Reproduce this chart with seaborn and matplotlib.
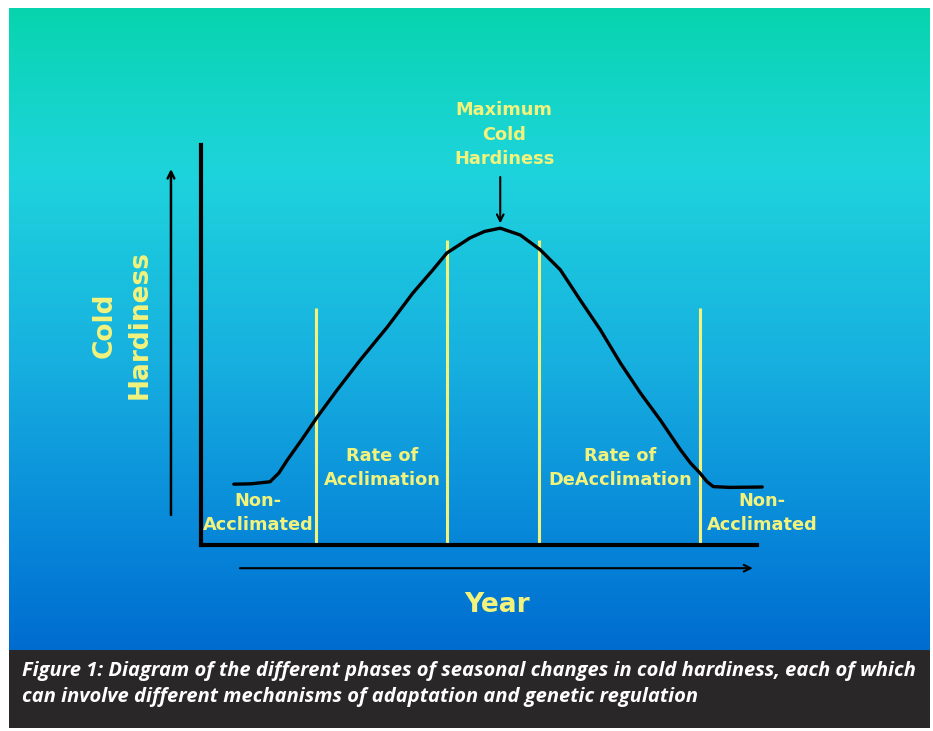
import numpy as np
import pandas as pd
import matplotlib
matplotlib.use("Agg")
import matplotlib.pyplot as plt
from matplotlib.colors import LinearSegmentedColormap
from matplotlib.patches import Rectangle
import seaborn as sns

# Data (x: position through the year, 0-100; y: relative cold hardiness, 0-100)
year_pos = [5.9, 9.0, 12.4, 14.0, 15.5, 18.2, 20.9, 24.5, 28.6, 33.5, 38.1, 41.7, 44.2,
            48.4, 51.0, 53.8, 57.4, 61.0, 64.6, 68.2, 71.8, 75.4, 79.0, 82.6, 86.2,
            88.0, 89.7, 91.0, 92.1, 95.0, 100.9]
hardiness = [15.2, 15.3, 15.8, 18.0, 21.2, 26.5, 32.0, 38.8, 46.2, 54.5, 63.0, 68.8, 73.0,
             76.8, 78.4, 79.2, 77.5, 73.8, 68.8, 61.2, 53.8, 45.5, 38.0, 31.2, 23.8,
             20.5, 18.0, 15.8, 14.6, 14.4, 14.5]

phase_bounds = [20.7, 44.2, 60.8, 89.7]
phase_tops = [59.2, 76.2, 76.2, 59.2]

phase_labels = ["Non-\nAcclimated", "Rate of\nAcclimation", "Rate of\nDeAcclimation", "Non-\nAcclimated"]
phase_label_x = [10.3, 32.6, 75.4, 100.9]
phase_label_y = [8.0, 19.3, 19.3, 8.0]

peak_x, peak_y = 53.8, 79.2

caption = ("Figure 1: Diagram of the different phases of seasonal changes in cold hardiness, each of which\n"
           "can involve different mechanisms of adaptation and genetic regulation")

df = pd.DataFrame({"year": year_pos, "hardiness": hardiness})

sns.set_theme(style="white")
plt.rcParams["font.family"] = ["DejaVu Sans"]

YELLOW = "#f3f37c"
W, H = 933, 731
fig = plt.figure(figsize=(W / 100, H / 100), dpi=100)
fig.patch.set_facecolor("white")

# background panel with vertical gradient + caption box
bg = fig.add_axes([0, 0, 1, 1])
bg.set_xlim(0, W)
bg.set_ylim(H, 0)
bg.axis("off")
grad_cmap = LinearSegmentedColormap.from_list(
    "panel", [(0.0, "#07d4ae"), (0.16, "#16d5cc"), (0.26, "#1ed3dc"),
              (0.55, "#17b0e0"), (0.85, "#0683d8"), (1.0, "#006ccf")])
grad = np.linspace(0, 1, 256).reshape(-1, 1)
bg.imshow(grad, cmap=grad_cmap, aspect="auto", extent=[9, 930, 650, 8], zorder=0)
bg.add_patch(Rectangle((9, 650), 921, 78, facecolor="#2a2728", edgecolor="none", zorder=1))
bg.text(22, 684, caption, color="white", fontsize=14.5, family=["Open Sans", "DejaVu Sans"],
        style="italic", weight="bold", va="center", ha="left", linespacing=1.4)

# chart axes
ax = fig.add_axes([201 / W, (H - 545) / H, 569 / W, 400 / H])
ax.patch.set_alpha(0)
ax.set_xlim(0, 102.3)
ax.set_ylim(0, 100)
ax.set_xticks([])
ax.set_yticks([])
for s in ["top", "right"]:
    ax.spines[s].set_visible(False)
ax.spines["left"].set_linewidth(3)
ax.spines["bottom"].set_linewidth(3)
ax.spines["left"].set_color("black")
ax.spines["bottom"].set_color("black")
ax.spines["bottom"].set_bounds(0, 100)

ax.vlines(phase_bounds, 0, phase_tops, color=YELLOW, lw=2.2, zorder=1)
sns.lineplot(data=df, x="year", y="hardiness", sort=False, color="black", lw=2.4, ax=ax,
             zorder=3, clip_on=False)
ax.set_xlabel("")
ax.set_ylabel("")

txt = dict(color=YELLOW, fontsize=12.8, weight="bold", ha="center", va="center",
           linespacing=1.45, clip_on=False)
for lx, ly, lab in zip(phase_label_x, phase_label_y, phase_labels):
    ax.text(lx, ly, lab, **txt)

ax.text(54.5, 102.6, "Maximum\nCold\nHardiness", **txt)
ax.annotate("", xy=(peak_x, peak_y + 1.2), xytext=(peak_x, 92.0), annotation_clip=False,
            arrowprops=dict(arrowstyle="->", color="black", lw=1.5, shrinkA=0, shrinkB=0))

# direction arrows
ax.annotate("", xy=(-5.4, 94.0), xytext=(-5.4, 7.5), annotation_clip=False,
            arrowprops=dict(arrowstyle="->", color="black", lw=1.8, shrinkA=0, shrinkB=0))
ax.annotate("", xy=(99.2, -5.8), xytext=(7.0, -5.8), annotation_clip=False,
            arrowprops=dict(arrowstyle="->", color="black", lw=1.5, shrinkA=0, shrinkB=0))

# axis titles
ax.text(0.52, -0.15, "Year", transform=ax.transAxes, color=YELLOW, fontsize=19,
        weight="bold", ha="center", va="center", clip_on=False)
ax.text(-0.139, 0.55, "Cold\nHardiness", transform=ax.transAxes, color=YELLOW, fontsize=19,
        weight="bold", ha="center", va="center", rotation=90, linespacing=1.45, clip_on=False)

fig.savefig("out.png", dpi=100)
